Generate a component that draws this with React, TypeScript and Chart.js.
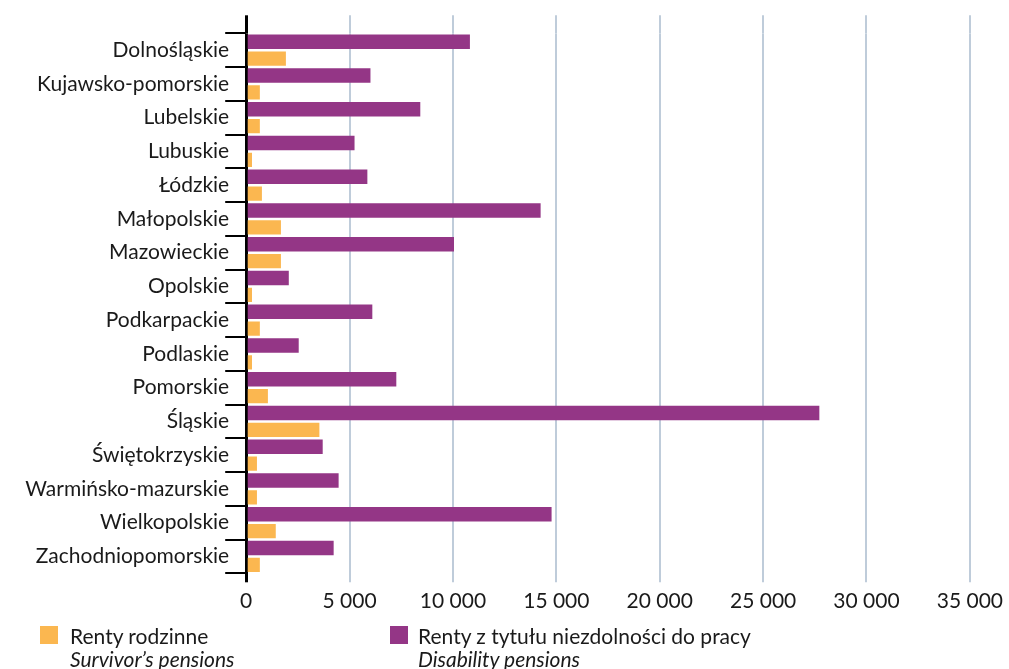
import React, { useEffect, useRef } from 'react';
import { Chart, registerables } from 'chart.js';

Chart.register(...registerables);

const regions = [
  'Dolnośląskie',
  'Kujawsko-pomorskie',
  'Lubelskie',
  'Lubuskie',
  'Łódzkie',
  'Małopolskie',
  'Mazowieckie',
  'Opolskie',
  'Podkarpackie',
  'Podlaskie',
  'Pomorskie',
  'Śląskie',
  'Świętokrzyskie',
  'Warmińsko-mazurskie',
  'Wielkopolskie',
  'Zachodniopomorskie',
];

const disabilityPensions = [10820, 6010, 8420, 5240, 5860, 14240, 10050, 2060, 6100, 2540, 7260, 27720, 3700, 4470, 14770, 4230];
const survivorPensions = [1920, 660, 660, 280, 760, 1680, 1680, 280, 660, 280, 1050, 3540, 520, 520, 1430, 660];

const xMin = 0;
const xMax = 35000;
const xStep = 5000;

const disabilityLabelPl = 'Renty z tytułu niezdolności do pracy';
const disabilityLabelEn = 'Disability pensions';
const survivorLabelPl = 'Renty rodzinne';
const survivorLabelEn = 'Survivor’s pensions';

const PURPLE = '#943686';
const ORANGE = '#FBB750';
const GRID = '#BFCCDA';
const TEXT = '#1a1a1a';
const FONT = 'Lato, "Noto Sans", sans-serif';

const W = 1009;
const H = 669;
const PLOT_LEFT = 246.2;
const PLOT_TOP = 33.3;
const PLOT_BOTTOM = 573.3;

const fmt = (v: number | string) => {
  const n = Math.round(Number(v));
  return String(n).replace(/\B(?=(\d{3})+(?!\d))/g, ' ');
};

const gridColor = (ctx: any) => (ctx.tick && ctx.tick.value === 0 ? '#000' : GRID);
const gridWidth = (ctx: any) => (ctx.tick && ctx.tick.value === 0 ? 3 : 2);

export default function App() {
  const ref = useRef<HTMLCanvasElement>(null);

  useEffect(() => {
    const canvas = ref.current!;
    const chart = new Chart(canvas, {
      type: 'bar',
      data: {
        labels: regions,
        datasets: [
          {
            label: disabilityLabelPl,
            data: disabilityPensions,
            backgroundColor: PURPLE,
            categoryPercentage: 1,
            barPercentage: 0.85,
          },
          {
            label: survivorLabelPl,
            data: survivorPensions,
            backgroundColor: ORANGE,
            categoryPercentage: 1,
            barPercentage: 0.85,
          },
        ],
      },
      options: {
        indexAxis: 'y',
        responsive: false,
        animation: false,
        layout: { padding: { top: PLOT_TOP - 18, left: 0, right: W - (PLOT_LEFT + 7 * 103.8), bottom: 0 } },
        plugins: { legend: { display: false }, tooltip: { enabled: false } },
        scales: {
          x: {
            type: 'linear',
            position: 'bottom',
            min: xMin,
            max: xMax,
            ticks: {
              stepSize: xStep,
              callback: (v: any) => fmt(v),
              font: { family: FONT, size: 21 },
              color: TEXT,
              padding: 6,
              maxRotation: 0,
              autoSkip: false,
            },
            grid: { color: gridColor, lineWidth: gridWidth, tickLength: 9, drawTicks: true },
            border: { display: false },
            afterFit: (s: any) => {
              s.height = H - PLOT_BOTTOM;
            },
          },
          xTop: {
            type: 'linear',
            axis: 'x',
            position: 'top',
            min: xMin,
            max: xMax,
            ticks: { stepSize: xStep, display: false },
            grid: { color: gridColor, lineWidth: gridWidth, tickLength: 18, drawOnChartArea: false, drawTicks: true },
            border: { display: false },
            afterFit: (s: any) => {
              s.height = 18;
            },
          },
          y: {
            type: 'category',
            ticks: {
              font: { family: FONT, size: 21 },
              color: TEXT,
              padding: -4,
              autoSkip: false,
            },
            grid: { drawOnChartArea: false, tickLength: 21, color: '#000', lineWidth: 2, offset: true },
            border: { display: false },
            afterFit: (s: any) => {
              s.width = PLOT_LEFT;
            },
          },
        },
      },
    } as any);
    return () => chart.destroy();
  }, []);

  const legendText: React.CSSProperties = {
    position: 'absolute',
    fontFamily: FONT,
    fontSize: 21,
    lineHeight: '23px',
    color: TEXT,
    whiteSpace: 'nowrap',
    top: 623.5,
  };

  return (
    <div style={{ position: 'fixed', left: 0, top: 0, width: W, height: H, background: '#fff' }}>
      <canvas ref={ref} width={W} height={H} style={{ display: 'block', width: W, height: H }} />
      <div style={{ position: 'absolute', left: 40, top: 626, width: 18, height: 18, background: ORANGE }} />
      <div style={{ ...legendText, left: 70 }}>
        <div>{survivorLabelPl}</div>
        <div style={{ fontStyle: 'italic' }}>{survivorLabelEn}</div>
      </div>
      <div style={{ position: 'absolute', left: 390, top: 626, width: 18, height: 18, background: PURPLE }} />
      <div style={{ ...legendText, left: 418 }}>
        <div>{disabilityLabelPl}</div>
        <div style={{ fontStyle: 'italic' }}>{disabilityLabelEn}</div>
      </div>
    </div>
  );
}
